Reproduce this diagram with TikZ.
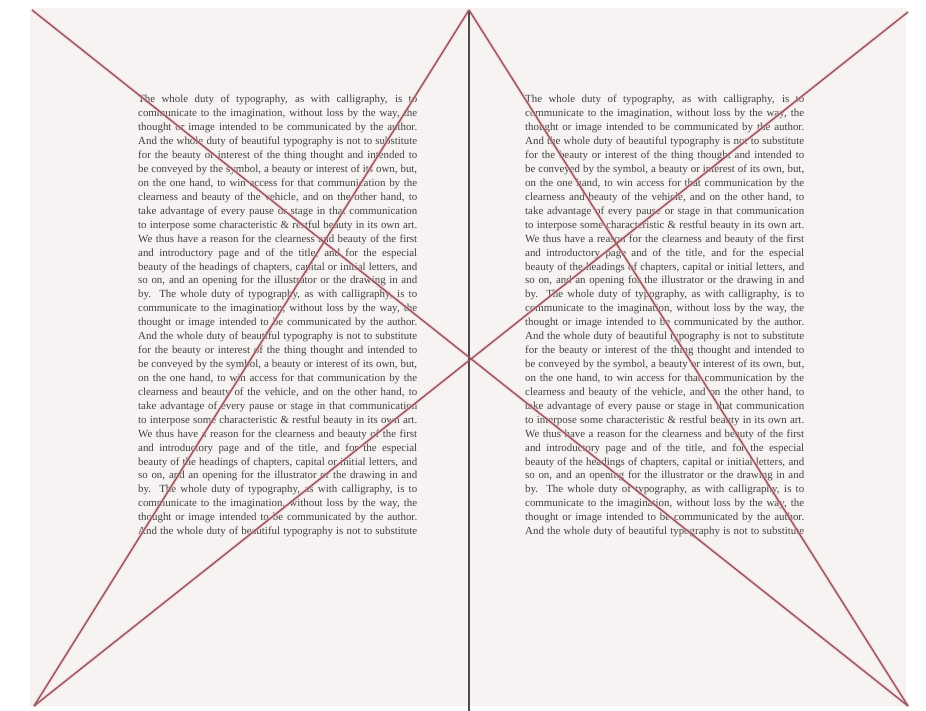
\documentclass[tikz,border=0pt]{standalone}
\usepackage{fontspec}
\setmainfont{Liberation Serif}
\definecolor{pagebg}{rgb}{0.966,0.953,0.950}
\definecolor{guide}{rgb}{0.60,0.33,0.36}
\definecolor{halo}{rgb}{0.95,0.80,0.82}
\definecolor{spinecol}{rgb}{0.30,0.29,0.29}
\definecolor{textcol}{rgb}{0.26,0.25,0.25}
\newcommand\tyline[1]{\hbox to 279pt{#1}}
\newcommand\tyblock{\vbox{\fontsize{10.9}{13.93}\selectfont\color{textcol}%
\spaceskip=0.25em plus 0.6em minus 0.15em
\tyline{The whole duty of typography, as with calligraphy, is to}
\tyline{communicate to the imagination, without loss by the way, the}
\tyline{thought or image intended to be communicated by the author.}
\tyline{And the whole duty of beautiful typography is not to substitute}
\tyline{for the beauty or interest of the thing thought and intended to}
\tyline{be conveyed by the symbol, a beauty or interest of its own, but,}
\tyline{on the one hand, to win access for that communication by the}
\tyline{clearness and beauty of the vehicle, and on the other hand, to}
\tyline{take advantage of every pause or stage in that communication}
\tyline{to interpose some characteristic \& restful beauty in its own art.}
\tyline{We thus have a reason for the clearness and beauty of the first}
\tyline{and introductory page and of the title, and for the especial}
\tyline{beauty of the headings of chapters, capital or initial letters, and}
\tyline{so on, and an opening for the illustrator or the drawing in and}
\tyline{by. The whole duty of typography, as with calligraphy, is to}
\tyline{communicate to the imagination, without loss by the way, the}
\tyline{thought or image intended to be communicated by the author.}
\tyline{And the whole duty of beautiful typography is not to substitute}
\tyline{for the beauty or interest of the thing thought and intended to}
\tyline{be conveyed by the symbol, a beauty or interest of its own, but,}
\tyline{on the one hand, to win access for that communication by the}
\tyline{clearness and beauty of the vehicle, and on the other hand, to}
\tyline{take advantage of every pause or stage in that communication}
\tyline{to interpose some characteristic \& restful beauty in its own art.}
\tyline{We thus have a reason for the clearness and beauty of the first}
\tyline{and introductory page and of the title, and for the especial}
\tyline{beauty of the headings of chapters, capital or initial letters, and}
\tyline{so on, and an opening for the illustrator or the drawing in and}
\tyline{by. The whole duty of typography, as with calligraphy, is to}
\tyline{communicate to the imagination, without loss by the way, the}
\tyline{thought or image intended to be communicated by the author.}
\tyline{And the whole duty of beautiful typography is not to substitute}
}}
\tikzset{
  guidehalo/.style={draw=halo, line width=3.6pt, opacity=0.6},
  guideline/.style={draw=guide, line width=1.4pt},
  spineline/.style={draw=spinecol, line width=1.6pt},
  textblock/.style={inner sep=0pt, anchor=north west},
}
\begin{document}
\begin{tikzpicture}[x=1pt,y=-1pt]
\useasboundingbox (0,0) rectangle (926,711);
\fill[white] (0,0) rectangle (926,711);
\fill[pagebg] (30,8) rectangle (906,706);
% text blocks
\node[textblock] (lefttext) at (138,95) {\tyblock};
\node[textblock] (righttext) at (525,95) {\tyblock};
% key points
\coordinate (tl) at (32,10);
\coordinate (tr) at (908,12);
\coordinate (bl) at (34,706);
\coordinate (br) at (908,706);
\coordinate (apex) at (469,10);
\coordinate (spinebot) at (469,711);
% halos
\draw[guidehalo] (tl) -- (br);
\draw[guidehalo] (tr) -- (bl);
\draw[guidehalo] (bl) -- (apex);
\draw[guidehalo] (br) -- (apex);
% spine
\draw[spineline] (apex) -- (spinebot);
% guides
\draw[guideline] (tl) -- (br);
\draw[guideline] (tr) -- (bl);
\draw[guideline] (bl) -- (apex);
\draw[guideline] (br) -- (apex);
\end{tikzpicture}
\end{document}
